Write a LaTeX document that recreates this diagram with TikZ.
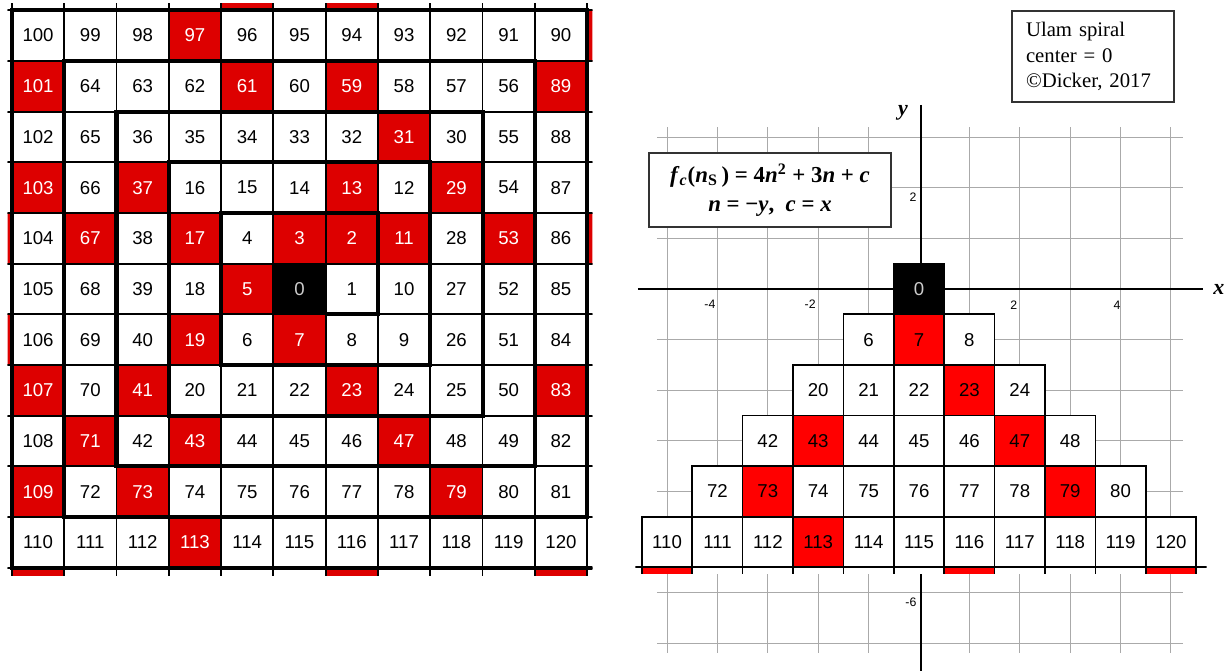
\documentclass[tikz,border=0pt]{standalone}
\usepackage{fontspec}
\setmainfont{Liberation Serif}
\setsansfont{Liberation Sans}
\usetikzlibrary{positioning}

\definecolor{ulamred}{RGB}{221,0,0}
\definecolor{plotred}{RGB}{255,0,0}
\definecolor{gridgray}{RGB}{170,170,170}

\begin{document}
\begin{tikzpicture}[
  x=0.02cm,y=-0.02cm,
  num/.style={font=\sffamily\fontsize{10.6}{11}\selectfont},
  lcell/.style={draw,line width=1.1pt,minimum width=1.046cm,minimum height=1.014cm,
    inner sep=0pt,outer sep=0pt,fill=white,num},
  rcell/.style={draw,line width=0.95pt,minimum width=1.008cm,minimum height=1.012cm,
    inner sep=0pt,outer sep=0pt,fill=white,num},
  whitesq/.style={},
  redsq/.style={fill=ulamred,text=white},
  brightsq/.style={fill=plotred,text=black},
  blacksq/.style={fill=black,text=white!80!black},
  tick/.style={font=\sffamily\fontsize{7}{8}\selectfont,inner sep=0pt},
  axlabel/.style={font=\fontsize{12.5}{14}\selectfont\bfseries\itshape,inner sep=0pt},
  box/.style={draw=black!80,line width=0.7pt,fill=white},
]
\useasboundingbox (0,0) rectangle (1229,670);

% Ulam spiral, center 0
\begin{scope}[shift={(299.5,289)},x=1.046cm,y=1.014cm]
  \clip (-5.58,-5.65) rectangle (5.6,5.63);
  \foreach \x in {-6,...,6}
    \foreach \y in {-6,...,6} {
      \pgfmathtruncatemacro\k{max(abs(\x),abs(\y))}
      \pgfmathtruncatemacro\s{(2*\k-1)*(2*\k-1)}
      \pgfmathtruncatemacro\n{(\x==\k && \y>-\k) ? \s+(\y)+\k-1 :
        ((\y==\k) ? \s+3*\k-1-(\x) : ((\x==-\k) ? \s+5*\k-1-(\y) : \s+7*\k-1+(\x)))}
      \pgfmathtruncatemacro\p{isprime(max(\n,2))*(\n>1)}
      \ifnum\p=1 \def\look{redsq}\else\def\look{whitesq}\fi
      \ifnum\n=0 \def\look{blacksq}\fi
      \ifnum\k>5 \def\lbl{}\else\let\lbl\n\fi
      \node[lcell,\look] (s\n) at (\x,\y) {\lbl};
    }
  \draw[line width=2.3pt,line join=miter] (0.5,-0.5)
    \foreach \k in {1,...,6} {
      -- ({\k+0.5},{0.5-\k}) -- ({\k+0.5},{\k+0.5})
      -- ({-\k-0.5},{\k+0.5}) -- ({-\k-0.5},{-\k-0.5}) };
\end{scope}

% f_c(n) = 4n^2 + 3n + c on the plane
\begin{scope}[shift={(919,289)},x=1.008cm,y=1.012cm]
  \foreach \x in {-5,...,-1,1,2,...,5}
    \draw[gridgray,line width=0.6pt] (\x,3.2) -- (\x,-7.2);
  \foreach \y in {3,2,1,-1,-2,...,-7}
    \draw[gridgray,line width=0.6pt] (-5.2,\y) -- (5.24,\y);
  \draw[line width=1.6pt] (-5.58,0) -- (5.64,0);
  \draw[line width=1.6pt] (0.04,3.64) -- (0.04,-7.6);
  \node[axlabel] (xlab) at (5.95,0) {x};
  \node[axlabel] (ylab) at (-0.32,3.48) {y};
  \node[tick] (t1) at (-4.15,-0.30) {-4};
  \node[tick] (t2) at (-2.16,-0.30) {-2};
  \node[tick] (t3) at (1.88,-0.32) {2};
  \node[tick] (t4) at (3.93,-0.32) {4};
  \node[tick] (t5) at (-0.12,1.82) {2};
  \node[tick] (t6) at (-0.16,-6.19) {-6};
  \foreach \r in {0,...,5}
    \foreach \x in {-\r,...,\r} {
      \pgfmathtruncatemacro\n{4*\r*\r+3*\r+(\x)}
      \pgfmathtruncatemacro\p{isprime(max(\n,2))*(\n>1)}
      \ifnum\p=1 \def\look{brightsq}\else\def\look{whitesq}\fi
      \ifnum\n=0 \def\look{blacksq}\fi
      \node[rcell,\look] (f\n) at (\x,-\r) {\n};
    }
  \begin{scope}
    \clip (-5.63,-5.45) rectangle (5.71,-5.62);
    \foreach \x in {-6,...,6} {
      \pgfmathtruncatemacro\n{4*36+3*6+(\x)}
      \pgfmathtruncatemacro\p{isprime(\n)}
      \ifnum\p=1 \def\look{brightsq}\else\def\look{whitesq}\fi
      \node[rcell,\look] (g\n) at (\x,-6) {};
    }
  \end{scope}
\end{scope}

\node[box,minimum width=4.84cm,minimum height=1.48cm,align=center,
  font=\fontsize{13}{16.5}\selectfont\bfseries] (formula) at (770,190)
  {\textit{f}\textsubscript{\textit{c}}(\textit{n}\textsubscript{S}\,) = 4\textit{n}\textsuperscript{2} + 3\textit{n} + \textit{c}\\
   \textit{n} = −\textit{y},\ \ \textit{c} = \textit{x}};
\node[box,minimum width=3.24cm,minimum height=1.82cm,inner xsep=0.28cm,
  text width=2.68cm,align=left,font=\fontsize{11.8}{14.5}\selectfont] (info) at (1093,56.5)
  {Ulam spiral\\center = 0\\©Dicker, 2017};
\end{tikzpicture}
\end{document}
